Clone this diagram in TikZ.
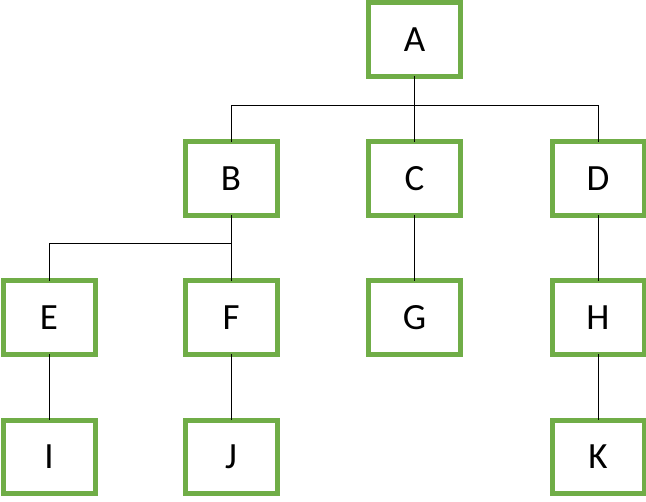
\documentclass[tikz,border=0pt]{standalone}
\usepackage{fontspec}
\setmainfont{Carlito}
\definecolor{boxgreen}{HTML}{70AD47}
\begin{document}
\begin{tikzpicture}[x=1pt,y=1pt,
  orgbox/.style={draw=boxgreen,line width=5pt,fill=white,minimum width=92pt,minimum height=73.5pt,inner sep=0pt,outer sep=0pt,font=\fontsize{37}{40}\selectfont},
  link/.style={draw=black,line width=0.8pt}]
\useasboundingbox (0,0) rectangle (646,-502);
\node[orgbox] (A) at (414.5,-39.5) {A};
\node[orgbox] (B) at (231,-178.3) {B};
\node[orgbox] (C) at (414.5,-178.3) {C};
\node[orgbox] (D) at (598,-178.3) {D};
\node[orgbox] (E) at (49,-317.5) {E};
\node[orgbox] (F) at (231,-317.5) {F};
\node[orgbox] (G) at (414.5,-317.5) {G};
\node[orgbox] (H) at (598,-317.5) {H};
\node[orgbox] (I) at (49,-457) {I};
\node[orgbox] (J) at (231,-457) {J};
\node[orgbox] (K) at (598,-457) {K};
\coordinate (aj) at (414.5,-105);
\coordinate (bj) at (231,-243.7);
\draw[link] (A.south) -- (C.north);
\draw[link] (A.south) -- (aj) -| (B.north);
\draw[link] (aj) -| (D.north);
\draw[link] (B.south) -- (F.north);
\draw[link] (bj) -| (E.north);
\draw[link] (C.south) -- (G.north);
\draw[link] (D.south) -- (H.north);
\draw[link] (E.south) -- (I.north);
\draw[link] (F.south) -- (J.north);
\draw[link] (H.south) -- (K.north);
\end{tikzpicture}
\end{document}
